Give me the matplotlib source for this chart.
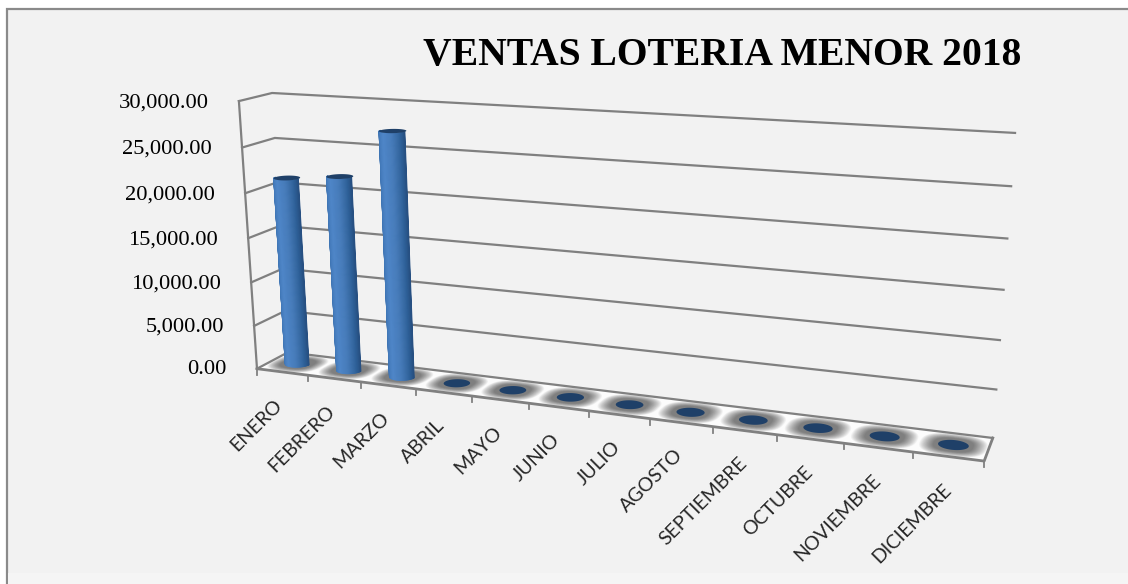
import numpy as np
import matplotlib
matplotlib.use('Agg')
import matplotlib.pyplot as plt
from matplotlib.collections import PolyCollection
from matplotlib.patches import Polygon, Rectangle

months = ['ENERO', 'FEBRERO', 'MARZO', 'ABRIL', 'MAYO', 'JUNIO', 'JULIO', 'AGOSTO',
          'SEPTIEMBRE', 'OCTUBRE', 'NOVIEMBRE', 'DICIEMBRE']
ventas = [21300, 21900, 27200, 0, 0, 0, 0, 0, 0, 0, 0, 0]
y_ticks = [0, 5000, 10000, 15000, 20000, 25000, 30000]
y_max = 30000

# corners of the 3d box (month pos, depth, value) -> where they sit on the image
box_3d = [(0, 0, 0), (0, 0, 1), (0, 1, 0), (0, 1, 1), (1, 1, 0), (1, 1, 1), (1, 0, 0)]
box_px = [(258, 368), (238, 101), (287, 353), (273, 93), (993, 437), (1015, 133), (984, 462)]

rows, rhs = [], []
for (a, b, c), (px, py) in zip(box_3d, box_px):
    rows.append([a, b, c, 1, 0, 0, 0, 0, -px * a, -px * b, -px * c])
    rows.append([0, 0, 0, 0, a, b, c, 1, -py * a, -py * b, -py * c])
    rhs += [px, py]
P = np.append(np.linalg.lstsq(np.array(rows, float), np.array(rhs, float), rcond=None)[0], 1).reshape(3, 4)


def project(u, d, v):
    # perspective from box coords to image pixels
    u, d, v = np.broadcast_arrays(u, d, v)
    pts = np.stack([u, d, v, np.ones_like(u, dtype=float)], axis=-1) @ P.T
    return pts[..., :2] / pts[..., 2:]


fig = plt.figure(figsize=(11.28, 5.84), dpi=100, facecolor='white')
ax = fig.add_axes([0, 0, 1, 1])
ax.set_xlim(0, 1128)
ax.set_ylim(584, 0)
ax.axis('off')

ax.add_patch(Rectangle((6.5, 8.5), 1130, 590, fc='#F2F2F2', ec='#8A8A8A', lw=1.6, zorder=0))
ax.add_patch(Rectangle((8, 573), 1130, 20, fc='#F5F5F5', ec='none', zorder=0.1))

grid_col = '#808080'
n = len(months)

# floor
ax.add_patch(Polygon(project(np.array([0, 1, 1, 0.]), np.array([0, 0, 1, 1.]), 0.0), fc='#FCFCFC', ec='none', zorder=1))

# soft shadow under every bar, rounded-box shape
t = np.linspace(0, 2 * np.pi, 80)
sx = np.sign(np.cos(t)) * np.abs(np.cos(t)) ** 0.75
sy = np.sign(np.sin(t)) * np.abs(np.sin(t)) ** 0.75
for i in range(n):
    uc = (i + 0.5) / n
    for s in np.linspace(1, 0.6, 16):
        xy = project(uc + s * 0.48 / n * sx, 0.5 + s * 0.48 * sy, 0.0)
        ax.add_patch(Polygon(xy, fc='black', ec='none', alpha=0.04, zorder=1.5))

# walls: grid lines and edges
for val in y_ticks:
    v = val / y_max
    ax.plot(*project(np.array([0., 0., 1.]), np.array([0., 1., 1.]), v).T, color=grid_col, lw=1.6, zorder=2,
            solid_joinstyle='miter')
    lx, ly = project(0.0, 0.0, v)
    ax.text(lx - 30, ly + 1 + v, f'{val:,.2f}', ha='right', va='center', fontsize=16.2,
            family='Liberation Serif', color='black', zorder=5)
ax.plot(*project(np.array([0., 0.]), np.array([0., 0.]), np.array([0., 1.])).T, color=grid_col, lw=1.6, zorder=2)
ax.plot(*project(np.array([0., 1., 1.]), np.array([0., 0., 1.]), 0.0).T, color=grid_col, lw=2, zorder=2)

# month ticks and labels along the front of the floor
for i in range(n + 1):
    x0, y0 = project(i / n, 0.0, 0.0)
    ax.plot([x0, x0], [y0, y0 + 6], color=grid_col, lw=1.3, zorder=2)
for i, name in enumerate(months):
    u = (i + 0.5) / n
    x0, y0 = project(u, 0.0, 0.0)
    ax.text(x0 - 3 + 3 * u, y0 + 30, name, rotation=45, rotation_mode='anchor', ha='right', va='center',
            fontsize=14, family='Lato', color='#262626', zorder=5)

# cylinders
r_u = 0.0182
r_d = 0.21
shade_pos = [0.0, 0.12, 0.42, 0.62, 0.85, 1.0]
shade_col = np.array([[0x2C, 0x5A, 0x8E], [0x3A, 0x70, 0xAE], [0x4F, 0x86, 0xC8],
                      [0x47, 0x7C, 0xBB], [0x2E, 0x60, 0x98], [0x26, 0x4E, 0x80]]) / 255
for i, val in enumerate(ventas):
    uc = (i + 0.5) / n
    v = val / y_max
    if val > 0:
        th = np.linspace(np.pi, 2 * np.pi, 41)
        cu = uc + r_u * np.cos(th)
        cd = 0.5 + r_d * np.sin(th)
        low = project(cu, cd, 0.0)
        high = project(cu, cd, v)
        quads = [[low[k], low[k + 1], high[k + 1], high[k]] for k in range(len(th) - 1)]
        f = (np.arange(len(th) - 1) + 0.5) / (len(th) - 1)
        cols = np.stack([np.interp(f, shade_pos, shade_col[:, c]) for c in range(3)], axis=1)
        ax.add_collection(PolyCollection(quads, facecolors=cols, edgecolors=cols, linewidths=0.6, zorder=3 + i * 0.01))
    th = np.linspace(0, 2 * np.pi, 60)
    cap = project(uc + r_u * np.cos(th), 0.5 + r_d * np.sin(th), v)
    ax.add_patch(Polygon(cap, fc='#1F4068', ec='none', zorder=3.5 + i * 0.01))

ax.text(722, 56, 'VENTAS LOTERIA MENOR 2018', ha='center', va='center', fontsize=28.5,
        family='Liberation Serif', weight='bold', color='black', zorder=5)

fig.savefig('out.png', dpi=100)
